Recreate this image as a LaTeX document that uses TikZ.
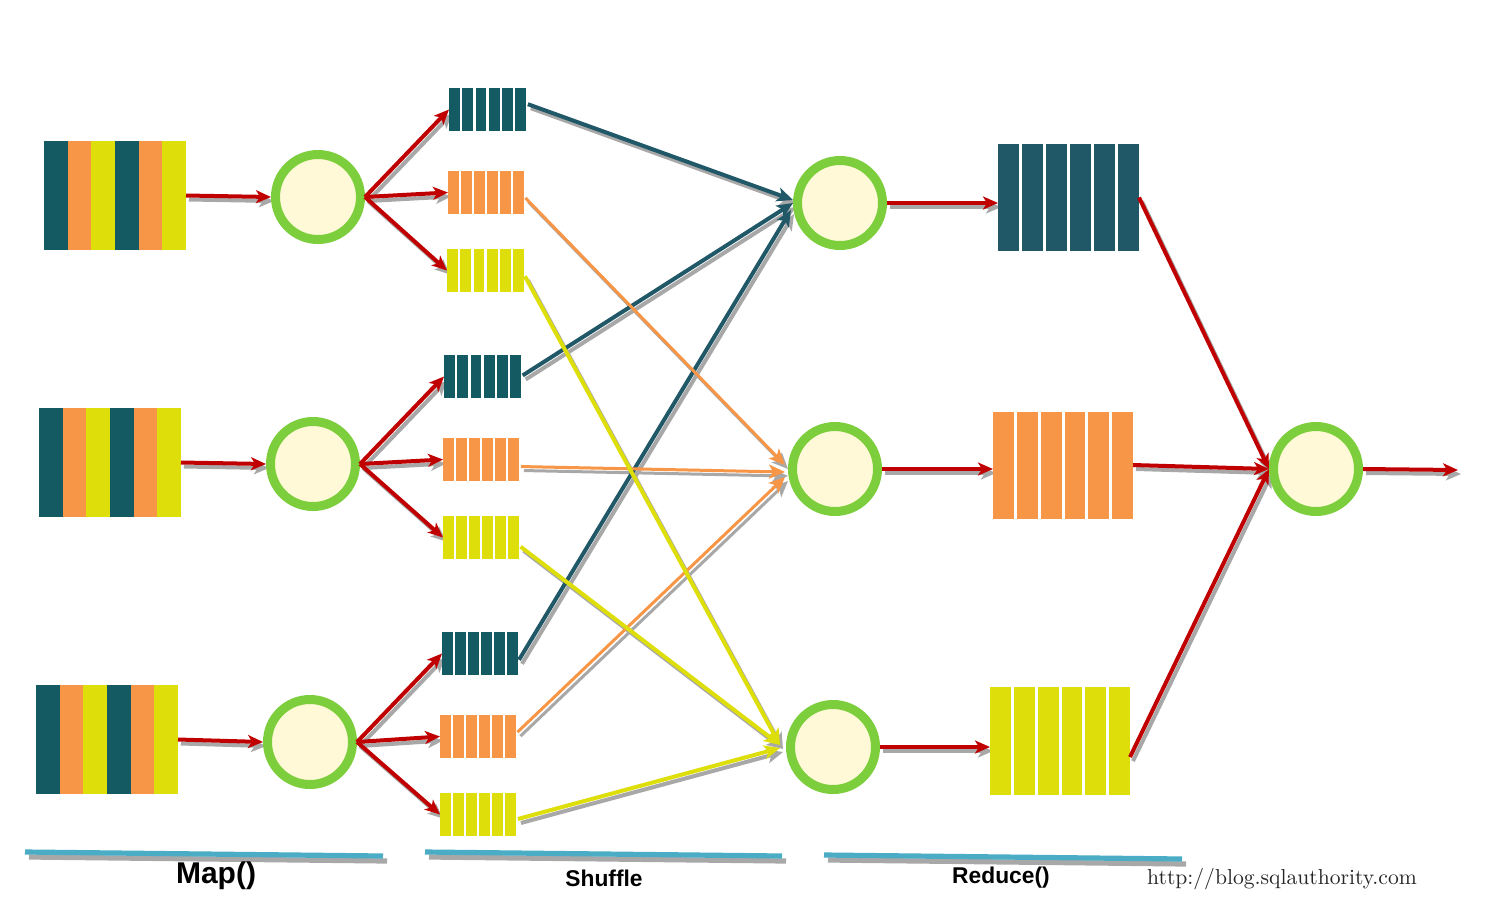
\documentclass[tikz,border=0pt]{standalone}
\usepackage{fontspec}
\setsansfont{Liberation Sans}
\usetikzlibrary{arrows.meta,calc}
\pgfdeclarelayer{bglayer}
\pgfdeclarelayer{shadowlayer}
\pgfsetlayers{bglayer,shadowlayer,main}
\definecolor{tealA}{HTML}{145A62}
\definecolor{tealB}{HTML}{215868}
\definecolor{orangeA}{HTML}{F79646}
\definecolor{yellowA}{HTML}{DEDF0A}
\definecolor{ringG}{HTML}{7DCE3C}
\definecolor{cream}{HTML}{FFF9D7}
\definecolor{redA}{HTML}{C00000}
\definecolor{barB}{HTML}{4BACC6}
\definecolor{shadowG}{HTML}{A8A8A8}

\newcommand\stripeblock[8]{%
  \node[blockbox, minimum width=#4*0.5pt, minimum height=#5*0.5pt] (#1) at (#2,#3) {};
  \fill[#7] (#1.north west) rectangle (#1.south east);
  \foreach \cc [count=\ii from 0] in {#8}
    \fill[\cc] ($(#1.north west)+({\ii*(#4+#6)/6},0)$) rectangle ++({(#4+#6)/6-#6},#5);
}
\newcommand\conn[3]{%
  \begin{pgfonlayer}{shadowlayer}
    \draw[#1,draw=shadowG,fill=shadowG,transform canvas={shift={(1.5pt,-2pt)}}] #2 -- #3;
  \end{pgfonlayer}
  \draw[#1] #2 -- #3;}

\tikzset{
  blockbox/.style={rectangle, inner sep=0pt, outer sep=0pt, draw=none},
  ring/.style={circle, draw=ringG, line width=4.5pt, fill=cream, minimum size=42.5pt, inner sep=0pt},
  redarrow/.style={draw=redA, line width=2pt, -{Stealth[length=7.5pt,width=6.5pt,inset=2pt]}},
  shufteal/.style={draw=tealB, line width=2pt, shorten <=1pt, -{Stealth[length=8pt,width=7pt,inset=2pt]}},
  shuforange/.style={draw=orangeA, line width=1.5pt, shorten <=1pt, -{Stealth[length=8pt,width=7pt,inset=2pt]}},
  shufyellow/.style={draw=yellowA, line width=2pt, shorten <=1pt, -{Stealth[length=8pt,width=7pt,inset=2pt]}},
  barline/.style={draw=barB, line width=2.6pt},
  labelbig/.style={font=\sffamily\bfseries\fontsize{15}{18}\selectfont},
  labelmid/.style={font=\sffamily\bfseries\fontsize{11.4}{13}\selectfont},
  urlstyle/.style={font=\fontsize{10.8}{13}\selectfont, text=black!85}
}

\begin{document}
\begin{tikzpicture}[x=0.5pt,y=-0.5pt]
\begin{pgfonlayer}{bglayer}
\fill[white] (0,0) rectangle (1488,901);
\end{pgfonlayer}
\useasboundingbox (0,0) rectangle (1488,901);

% input blocks
\stripeblock{I1}{115}{195.5}{142}{109}{0}{white}{tealA,orangeA,yellowA,tealA,orangeA,yellowA}
\stripeblock{I2}{110}{462.5}{142}{109}{0}{white}{tealA,orangeA,yellowA,tealA,orangeA,yellowA}
\stripeblock{I3}{107}{739.5}{142}{109}{0}{white}{tealA,orangeA,yellowA,tealA,orangeA,yellowA}

% map circles
\node[ring] (M1) at (318,197) {};
\node[ring] (M2) at (313,464) {};
\node[ring] (M3) at (310,742) {};

% small blocks
\stripeblock{T1}{487.5}{109.5}{77}{43}{2.5}{white}{tealA,tealA,tealA,tealA,tealA,tealA}
\stripeblock{O1}{486}{192.5}{76}{43}{2.5}{white}{orangeA,orangeA,orangeA,orangeA,orangeA,orangeA}
\stripeblock{Y1}{485.5}{270.5}{77}{43}{2.5}{white}{yellowA,yellowA,yellowA,yellowA,yellowA,yellowA}
\stripeblock{T2}{482.5}{376.5}{77}{43}{2.5}{white}{tealA,tealA,tealA,tealA,tealA,tealA}
\stripeblock{O2}{481}{459.5}{76}{43}{2.5}{white}{orangeA,orangeA,orangeA,orangeA,orangeA,orangeA}
\stripeblock{Y2}{481}{537.5}{76}{43}{2.5}{white}{yellowA,yellowA,yellowA,yellowA,yellowA,yellowA}
\stripeblock{T3}{480}{653.5}{76}{43}{2.5}{white}{tealA,tealA,tealA,tealA,tealA,tealA}
\stripeblock{O3}{478}{736.5}{76}{43}{2.5}{white}{orangeA,orangeA,orangeA,orangeA,orangeA,orangeA}
\stripeblock{Y3}{478}{814.5}{76}{43}{2.5}{white}{yellowA,yellowA,yellowA,yellowA,yellowA,yellowA}

% reduce circles
\node[ring] (R1) at (840,203) {};
\node[ring] (R2) at (835,469) {};
\node[ring] (R3) at (833,747) {};

% reduce output blocks
\stripeblock{B1}{1068.5}{197.5}{141}{107}{3}{white}{tealB,tealB,tealB,tealB,tealB,tealB}
\stripeblock{B2}{1063}{465}{140}{107}{3}{white}{orangeA,orangeA,orangeA,orangeA,orangeA,orangeA}
\stripeblock{B3}{1060}{741}{140}{108}{3}{white}{yellowA,yellowA,yellowA,yellowA,yellowA,yellowA}

% final circle
\node[ring] (F) at (1316,469) {};
\coordinate (out) at (1458,470);

% input -> map
\conn{redarrow}{(I1.east)}{(M1.west)}
\conn{redarrow}{(I2.east)}{(M2.west)}
\conn{redarrow}{(I3.east)}{(M3.west)}

% map -> partitions
\conn{redarrow}{(M1.east)}{(T1.west)}
\conn{redarrow}{(M1.east)}{(O1.west)}
\conn{redarrow}{(M1.east)}{(Y1.west)}
\conn{redarrow}{(M2.east)}{(T2.west)}
\conn{redarrow}{(M2.east)}{(O2.west)}
\conn{redarrow}{(M2.east)}{(Y2.west)}
\conn{redarrow}{(M3.east)}{(T3.west)}
\conn{redarrow}{(M3.east)}{(O3.west)}
\conn{redarrow}{(M3.east)}{(Y3.west)}

% shuffle
\conn{shufteal}{([yshift=3pt]T1.east)}{([yshift=1.5pt]R1.west)}
\conn{shufteal}{(T2.east)}{(R1.west)}
\conn{shufteal}{([yshift=-4pt]T3.east)}{([xshift=-1pt,yshift=-3.5pt]R1.west)}
\conn{shuforange}{([yshift=-2pt]O1.east)}{([xshift=-1.5pt,yshift=2pt]R2.west)}
\conn{shuforange}{([yshift=-3.5pt]O2.east)}{([xshift=-1.5pt,yshift=-1.5pt]R2.west)}
\conn{shuforange}{([yshift=1.5pt]O3.east)}{([xshift=-1.5pt,yshift=-4pt]R2.west)}
\conn{shufyellow}{([yshift=-2pt]Y1.east)}{([xshift=-3pt,yshift=1pt]R3.west)}
\conn{shufyellow}{([yshift=-4pt]Y2.east)}{([xshift=-3pt,yshift=1pt]R3.west)}
\conn{shufyellow}{([yshift=-2.5pt]Y3.east)}{([xshift=-3pt,yshift=-0.5pt]R3.west)}

% reduce -> blocks
\conn{redarrow}{(R1.east)}{(R1.east -| B1.west)}
\conn{redarrow}{(R2.east)}{(R2.east -| B2.west)}
\conn{redarrow}{(R3.east)}{(R3.east -| B3.west)}

% blocks -> final
\conn{redarrow}{(B1.east)}{(F.west)}
\conn{redarrow}{(B2.east)}{(F.west)}
\conn{redarrow}{([yshift=-8pt]B3.east)}{(F.west)}
\conn{redarrow}{(F.east)}{(out)}

% bottom bars
\coordinate (b1a) at (25,852); \coordinate (b1b) at (383,856);
\coordinate (b2a) at (425,852); \coordinate (b2b) at (782,856);
\coordinate (b3a) at (824,855); \coordinate (b3b) at (1182,859);
\foreach \a/\b in {b1a/b1b,b2a/b2b,b3a/b3b}{
  \draw[draw=shadowG, line width=2.6pt, transform canvas={shift={(2pt,-2.5pt)}}] (\a) -- (\b);
  \draw[barline] (\a) -- (\b);
}

% labels
\node[labelbig] (lmap) at (216,876) {Map()};
\node[labelmid] (lshuf) at (604,878) {Shuffle};
\node[labelmid] (lred) at (1001,878) {Reduce()};
\node[urlstyle] (url) at (1282,879) {http://blog.sqlauthority.com};
\end{tikzpicture}
\end{document}
